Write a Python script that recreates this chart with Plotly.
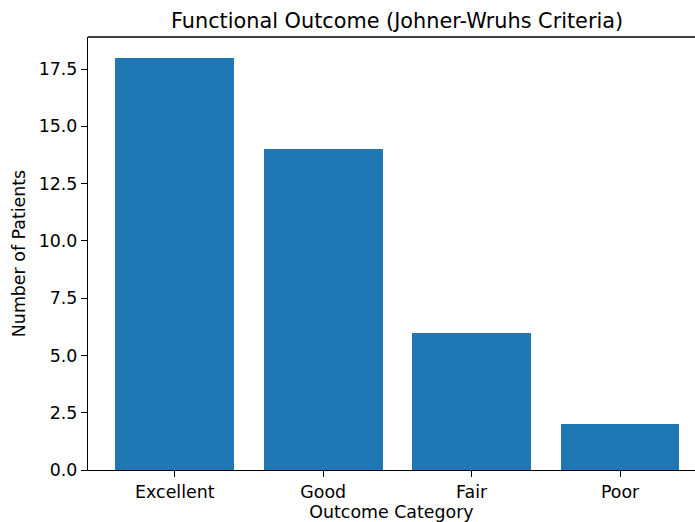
import plotly.graph_objects as go

categories = ["Excellent", "Good", "Fair", "Poor"]
patients = [18, 14, 6, 2]
y_ticks = [0, 2.5, 5, 7.5, 10, 12.5, 15, 17.5]
y_tick_labels = ["0.0", "2.5", "5.0", "7.5", "10.0", "12.5", "15.0", "17.5"]

fig = go.Figure(go.Bar(
    x=list(range(len(categories))), y=patients, width=0.8,
    marker=dict(color="#1f77b4", line=dict(width=0)),
))

font = "DejaVu Sans, sans-serif"
tick_size = 17.4
fig.update_layout(
    width=695, height=522,
    margin=dict(l=88, r=0, t=37, b=52),
    plot_bgcolor="white", paper_bgcolor="white",
    font=dict(family=font, size=tick_size, color="black"),
    showlegend=False,
    bargap=0,
    annotations=[dict(
        text="Functional Outcome (Johner-Wruhs Criteria)",
        xref="paper", yref="paper", x=0.509, y=1, yshift=2,
        xanchor="center", yanchor="bottom", showarrow=False,
        font=dict(family=font, size=20.8, color="black"),
    )],
)
fig.update_xaxes(
    range=[-0.585, 3.505], tickmode="array",
    tickvals=list(range(len(categories))), ticktext=categories,
    ticks="outside", ticklen=6, tickwidth=1.3, tickcolor="black",
    showline=True, linecolor="black", linewidth=1.3, mirror=False,
    showgrid=False, zeroline=False,
    tickfont=dict(size=tick_size),
    title=dict(text="Outcome Category", font=dict(size=tick_size), standoff=4),
)
fig.update_yaxes(
    range=[0, 18.9], tickmode="array", tickvals=y_ticks, ticktext=y_tick_labels,
    ticks="outside", ticklen=6, tickwidth=1.3, tickcolor="black",
    showline=True, linecolor="black", linewidth=1.3,
    showgrid=False, zeroline=False,
    tickfont=dict(size=tick_size),
    title=dict(text="Number of Patients", font=dict(size=tick_size), standoff=8),
)
fig.add_shape(type="line", xref="paper", yref="paper", x0=0, x1=1, y0=1, y1=1,
              line=dict(color="black", width=1.3))
fig.write_html("out.html", config={"displayModeBar": False},
               post_script="document.body.style.margin='0';")
